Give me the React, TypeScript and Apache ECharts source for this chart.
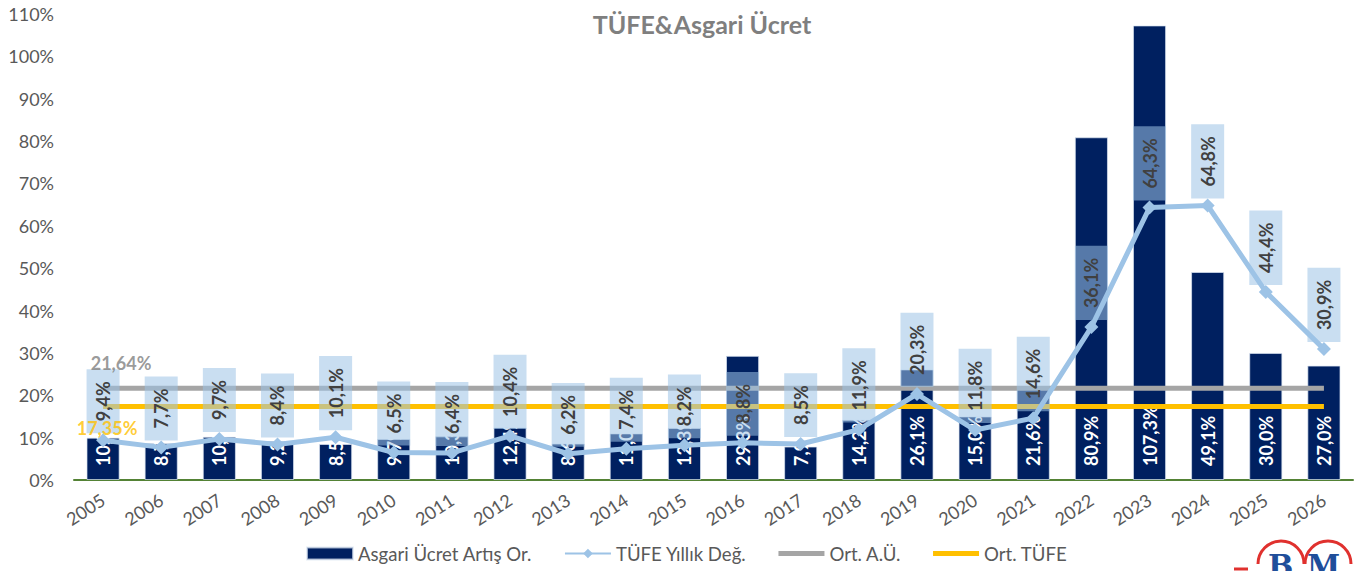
import React, { useEffect, useRef } from "react";
import * as echarts from "echarts";

const categories = ["2005","2006","2007","2008","2009","2010","2011","2012","2013","2014","2015","2016","2017","2018","2019","2020","2021","2022","2023","2024","2025","2026"];
const wageIncrease = [10.0, 8.7, 10.2, 9.2, 8.5, 9.7, 10.3, 12.4, 8.6, 11.0, 12.3, 29.3, 7.9, 14.2, 26.1, 15.0, 21.6, 80.9, 107.3, 49.1, 30.0, 27.0];
const cpiAnnual = [9.4, 7.7, 9.7, 8.4, 10.1, 6.5, 6.4, 10.4, 6.2, 7.4, 8.2, 8.8, 8.5, 11.9, 20.3, 11.8, 14.6, 36.1, 64.3, 64.8, 44.4, 30.9];
const avgWage = 21.64;
const avgCpi = 17.35;
const yMax = 110;
const yInterval = 10;

const FONT = "Lato";
const fmt1 = (v: number) => v.toFixed(1).replace(".", ",") + "%";
const fmt2 = (v: number) => v.toFixed(2).replace(".", ",") + "%";
const LINE_ICON = "path://M0,0 L46,0 L46,5 L0,5 Z";

export default function App() {
  const ref = useRef<HTMLDivElement>(null);
  useEffect(() => {
    if (!ref.current) return;
    const chart = echarts.init(ref.current, undefined, { renderer: "svg" });
    const option: any = {
      animation: false,
      backgroundColor: "#ffffff",
      textStyle: { fontFamily: FONT },
      title: {
        text: "TÜFE&Asgari Ücret",
        left: 697,
        top: 6,
        textAlign: "center",
        textStyle: { fontFamily: FONT, fontSize: 25, fontWeight: "bold", color: "#7F7F7F" },
      },
      legend: {
        bottom: 3,
        left: 301,
        itemWidth: 46,
        itemHeight: 12,
        itemGap: 32,
        textStyle: { fontFamily: FONT, fontSize: 18.6, color: "#595959" },
        data: [
          { name: "Asgari Ücret Artış Or.", icon: "rect" },
          { name: "TÜFE Yıllık Değ." },
          { name: "Ort. A.Ü.", icon: LINE_ICON },
          { name: "Ort. TÜFE", icon: LINE_ICON },
        ],
      },
      grid: { left: 74, right: 2, top: 14, bottom: 91, containLabel: false },
      xAxis: {
        type: "category",
        data: categories,
        boundaryGap: true,
        axisLine: { show: true, lineStyle: { color: "#548235", width: 2 } },
        axisTick: { show: false },
        axisLabel: {
          rotate: 33,
          margin: 18,
          interval: 0,
          fontFamily: FONT,
          fontSize: 18,
          color: "#595959",
        },
      },
      yAxis: {
        type: "value",
        min: 0,
        max: yMax,
        interval: yInterval,
        splitLine: { show: false },
        axisLine: { show: false },
        axisTick: { show: false },
        axisLabel: {
          margin: 20,
          fontFamily: FONT,
          fontSize: 18,
          color: "#595959",
          formatter: (v: number) => v + "%",
        },
      },
      series: [
        {
          name: "Asgari Ücret Artış Or.",
          type: "bar",
          data: wageIncrease,
          barCategoryGap: "43%",
          z: 2,
          itemStyle: { color: "#002060", borderColor: "rgba(220,230,242,0.7)", borderWidth: 1 },
          label: {
            show: true,
            position: "insideBottom",
            rotate: 90,
            align: "left",
            verticalAlign: "middle",
            distance: 14,
            fontFamily: FONT,
            fontSize: 18,
            fontWeight: "bold",
            color: "#ffffff",
            formatter: (p: any) => fmt1(p.value),
          },
        },
        {
          name: "Ort. A.Ü.",
          type: "line",
          data: categories.map(() => avgWage),
          symbol: "none",
          z: 3,
          lineStyle: { color: "#A5A5A5", width: 5 },
          itemStyle: { color: "#A5A5A5" },
        },
        {
          name: "Ort. TÜFE",
          type: "line",
          data: categories.map(() => avgCpi),
          symbol: "none",
          z: 3,
          lineStyle: { color: "#FFC000", width: 5 },
          itemStyle: { color: "#FFC000" },
        },
        {
          name: "TÜFE Yıllık Değ.",
          type: "line",
          data: cpiAnnual,
          z: 5,
          symbol: "diamond",
          symbolSize: 14,
          lineStyle: { color: "#9DC3E6", width: 5 },
          itemStyle: { color: "#9DC3E6" },
          label: {
            show: true,
            position: "top",
            distance: 0,
            rotate: 90,
            align: "left",
            verticalAlign: "middle",
            fontFamily: FONT,
            fontSize: 18,
            fontWeight: "bold",
            lineHeight: 18,
            color: "#404040",
            backgroundColor: "rgba(157,195,230,0.55)",
            padding: [8, 12, 7, 12],
            formatter: (p: any) => fmt1(p.value),
          },
        },
        {
          name: "avgWageLabel",
          type: "scatter",
          data: [[categories[0], avgWage]],
          symbolSize: 0,
          silent: true,
          z: 7,
          label: {
            show: true,
            position: "top",
            distance: 0,
            offset: [18, -16],
            fontFamily: FONT,
            fontSize: 18,
            fontWeight: "bold",
            color: "#7F7F7F",
            formatter: (p: any) => fmt2(p.value[1]),
          },
        },
        {
          name: "avgCpiLabel",
          type: "scatter",
          data: [[categories[0], avgCpi]],
          symbolSize: 0,
          silent: true,
          z: 7,
          label: {
            show: true,
            position: "bottom",
            distance: 0,
            offset: [4, 13],
            fontFamily: FONT,
            fontSize: 18,
            fontWeight: "bold",
            color: "#FFC000",
            formatter: (p: any) => fmt2(p.value[1]),
          },
        },
      ],
      graphic: [
        { type: "line", shape: { x1: 1234, y1: 569, x2: 1248, y2: 569 }, style: { stroke: "#E0312E", lineWidth: 3 } },
        { type: "arc", shape: { cx: 1281, cy: 564, r: 23, startAngle: Math.PI, endAngle: Math.PI * 2 }, style: { stroke: "#E0312E", lineWidth: 3, fill: "none" } },
        { type: "arc", shape: { cx: 1328, cy: 564, r: 23, startAngle: Math.PI, endAngle: Math.PI * 2 }, style: { stroke: "#E0312E", lineWidth: 3, fill: "none" } },
        { type: "text", x: 1268, y: 550, style: { text: "B", font: 'bold 30px "DejaVu Serif"', fill: "#1F4E9A" } },
        { type: "text", x: 1307, y: 550, style: { text: "M", font: 'bold 30px "DejaVu Serif"', fill: "#1F4E9A" } },
      ],
    };
    chart.setOption(option);
    return () => chart.dispose();
  }, []);
  return (
    <div
      ref={ref}
      style={{ position: "fixed", left: 0, top: 0, width: 1355, height: 571, background: "#fff" }}
    />
  );
}
